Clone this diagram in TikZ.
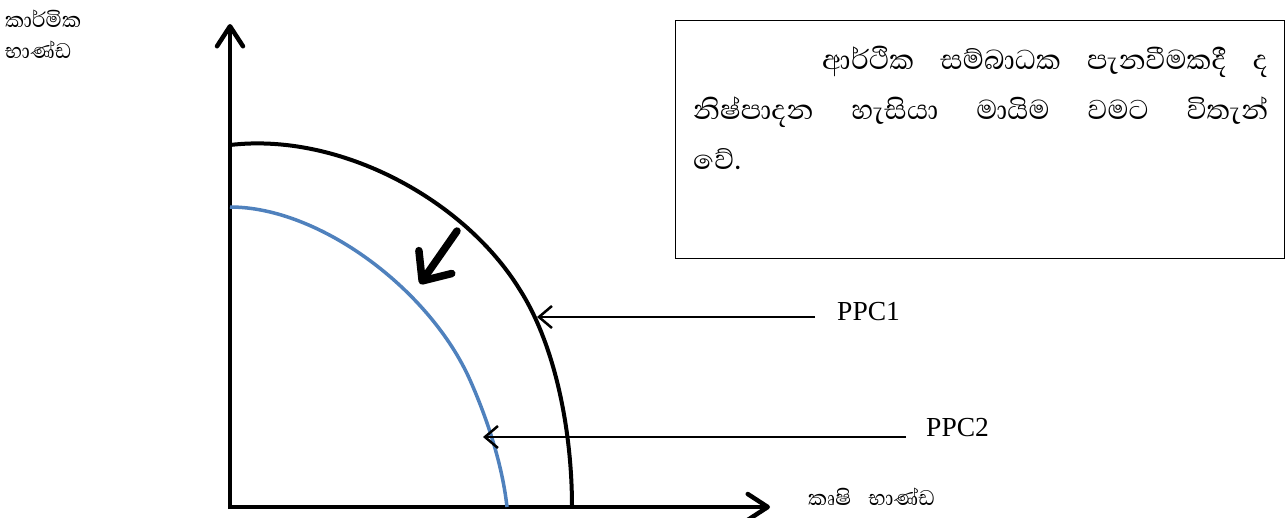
\documentclass[tikz,border=0pt]{standalone}
\usepackage{fontspec}
\setmainfont{Liberation Serif}
\newfontfamily\sinhalafont[Script=Sinhala]{Abhaya Libre}
\usetikzlibrary{arrows.meta}
\definecolor{ppcblue}{RGB}{79,129,189}
\tikzset{
  axis/.style={line width=4.5pt, -{Straight Barb[length=20pt,width=26pt,round]}},
  pointer/.style={line width=2.5pt, -{Straight Barb[length=13pt,width=22pt]}},
  shiftarrow/.style={line width=7.5pt, line cap=round, -{Straight Barb[length=23pt,width=40pt,round]}},
  curveA/.style={line width=4pt, black},
  curveB/.style={line width=3.5pt, ppcblue},
  lbl/.style={inner sep=0pt, font=\fontsize{27.5}{30}\selectfont},
  slbl/.style={inner sep=0pt, font=\sinhalafont\fontsize{27}{30}\selectfont, align=left},
  boxtextstyle/.style={inner sep=0pt, text width=575pt, align=justify, font=\sinhalafont\fontsize{35}{50}\selectfont},
}
\begin{document}
\begin{tikzpicture}[x=1pt,y=-1pt]
\useasboundingbox[fill=white] (0,0) rectangle (1287,517);
% axes
\coordinate (ytip) at (230,24);
\coordinate (xtip) at (770,507);
\coordinate (o1) at (230,509);
\coordinate (o2) at (228,507);
\draw[axis] (o1) -- (ytip);
\draw[axis] (o2) -- (xtip);
% PPC1
\coordinate (a0) at (230,145);
\coordinate (a1) at (520,290);
\coordinate (a2) at (572,507);
\draw[curveA] (a0) .. controls (340,132) and (465,200) .. (a1) .. controls (555,345) and (572,430) .. (a2);
% PPC2
\coordinate (b0) at (230,207);
\coordinate (b1) at (470,380);
\coordinate (b2) at (507,507);
\draw[curveB] (b0) .. controls (320,207) and (430,290) .. (b1) .. controls (490,425) and (503,470) .. (b2);
% shift arrow
\coordinate (sa) at (457,231);
\coordinate (sb) at (420,284);
\draw[shiftarrow] (sa) -- (sb);
% labels
\node[lbl, anchor=west] (p1) at (837,312) {PPC1};
\node[lbl, anchor=west] (p2) at (926,428) {PPC2};
\coordinate (p1s) at (815,317);
\coordinate (p1t) at (537,317);
\coordinate (p2s) at (906,437);
\coordinate (p2t) at (483,437);
\draw[pointer] (p1s) -- (p1t);
\draw[pointer] (p2s) -- (p2t);
\node[slbl, anchor=west] (ylab1) at (5,19) {කාර්මික};
\node[slbl, anchor=west] (ylab2) at (5,50) {භාණ්ඩ};
\node[slbl, anchor=west] (xlab) at (808,497) {කෘෂි\hspace{12pt} භාණ්ඩ};
% box
\node[draw, line width=1.3pt, anchor=north west, minimum width=609pt, minimum height=238pt, inner sep=0pt] (boxframe) at (675,20) {};
\node[boxtextstyle, anchor=north west] (boxtext) at (693,46)
{\hspace*{129pt}ආර්ථික සම්බාධක පැනවීමකදී ද\linebreak නිෂ්පාදන හැසියා මායිම වමට විතැන්\linebreak වේ.};
\end{tikzpicture}
\end{document}
